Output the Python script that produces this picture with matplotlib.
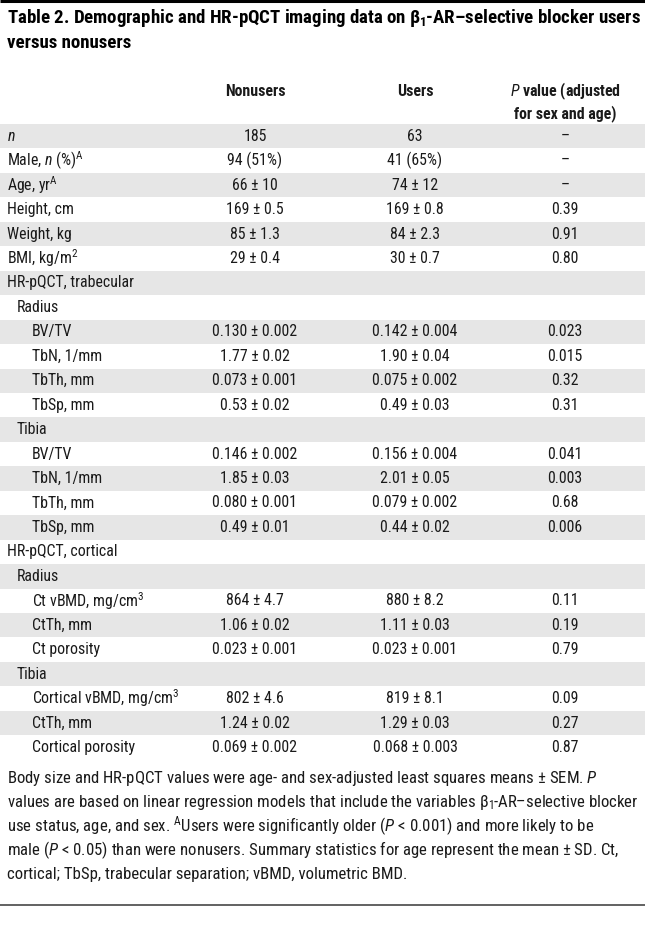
import matplotlib
matplotlib.use("Agg")
import matplotlib.pyplot as plt
from matplotlib import font_manager
from matplotlib.patches import Rectangle

names = {f.name for f in font_manager.fontManager.ttflist}
FONT = "Roboto"
for cand in ["Roboto Condensed", "Liberation Sans Narrow", "Roboto"]:
    if cand in names:
        FONT = cand
        break
plt.rcParams['font.family'] = [FONT, 'DejaVu Sans']
plt.rcParams['mathtext.fontset'] = 'custom'
plt.rcParams['mathtext.rm'] = FONT
plt.rcParams['mathtext.it'] = FONT + ':italic'
plt.rcParams['mathtext.bf'] = FONT + ':bold'

title_lines = [r"Table 2. Demographic and HR-pQCT imaging data on $\mathbf{\beta_1}\hspace{-0.08}$-AR–selective blocker users",
               "versus nonusers"]
col_headers = ["Nonusers", "Users", "$\\mathit{P}$ value (adjusted\nfor sex and age)"]

row_labels = [r"$\mathit{n}$", r"Male, $\mathit{n}$ (%)$^{\mathrm{A}}$", r"Age, yr$^{\mathrm{A}}$",
              "Height, cm", "Weight, kg", r"BMI, kg/m$^{\mathrm{2}}$",
              "HR-pQCT, trabecular", "Radius", "BV/TV", "TbN, 1/mm", "TbTh, mm", "TbSp, mm",
              "Tibia", "BV/TV", "TbN, 1/mm", "TbTh, mm", "TbSp, mm",
              "HR-pQCT, cortical", "Radius", r"Ct vBMD, mg/cm$^{\mathrm{3}}$", "CtTh, mm", "Ct porosity",
              "Tibia", r"Cortical vBMD, mg/cm$^{\mathrm{3}}$", "CtTh, mm", "Cortical porosity"]
row_levels = [0, 0, 0, 0, 0, 0,
              0, 1, 2, 2, 2, 2,
              1, 2, 2, 2, 2,
              0, 1, 2, 2, 2,
              1, 2, 2, 2]
nonusers = ["185", "94 (51%)", "66 ± 10", "169 ± 0.5", "85 ± 1.3", "29 ± 0.4",
            "", "", "0.130 ± 0.002", "1.77 ± 0.02", "0.073 ± 0.001", "0.53 ± 0.02",
            "", "0.146 ± 0.002", "1.85 ± 0.03", "0.080 ± 0.001", "0.49 ± 0.01",
            "", "", "864 ± 4.7", "1.06 ± 0.02", "0.023 ± 0.001",
            "", "802 ± 4.6", "1.24 ± 0.02", "0.069 ± 0.002"]
users = ["63", "41 (65%)", "74 ± 12", "169 ± 0.8", "84 ± 2.3", "30 ± 0.7",
         "", "", "0.142 ± 0.004", "1.90 ± 0.04", "0.075 ± 0.002", "0.49 ± 0.03",
         "", "0.156 ± 0.004", "2.01 ± 0.05", "0.079 ± 0.002", "0.44 ± 0.02",
         "", "", "880 ± 8.2", "1.11 ± 0.03", "0.023 ± 0.001",
         "", "819 ± 8.1", "1.29 ± 0.03", "0.068 ± 0.003"]
pvalues = ["–", "–", "–", "0.39", "0.91", "0.80",
           "", "", "0.023", "0.015", "0.32", "0.31",
           "", "0.041", "0.003", "0.68", "0.006",
           "", "", "0.11", "0.19", "0.79",
           "", "0.09", "0.27", "0.87"]
footnote_lines = [
    r"Body size and HR-pQCT values were age- and sex-adjusted least squares means ± SEM. $\mathit{P}$",
    r"values are based on linear regression models that include the variables $\mathrm{\beta_1}\hspace{-0.08}$-AR–selective blocker",
    r"use status, age, and sex. $^{\mathrm{A}}$Users were significantly older ($\mathit{P}$ < 0.001) and more likely to be",
    r"male ($\mathit{P}$ < 0.05) than were nonusers. Summary statistics for age represent the mean ± SD. Ct,",
    "cortical; TbSp, trabecular separation; vBMD, volumetric BMD.",
]

W, H = 645, 949
fig = plt.figure(figsize=(W / 100, H / 100), dpi=100)
ax = fig.add_axes([0, 0, 1, 1])
ax.set_xlim(0, W)
ax.set_ylim(H, 0)
ax.axis('off')
renderer = fig.canvas.get_renderer()


def fit_size(s, target_w, base, **kw):
    t = ax.text(0, 0, s, fontsize=base, **kw)
    w = t.get_window_extent(renderer).width
    t.remove()
    return base * target_w / w


TXT = "#1a1a1a"
# top rule
ax.plot([0, W], [1, 1], color="black", lw=2.2, solid_capstyle='butt')

# title
tsize = fit_size(title_lines[0], 633, 12.5, fontweight='bold')
for i, t in enumerate(title_lines):
    ax.text(7, 18 + i * 25, t, fontsize=tsize, fontweight='bold', va='center', ha='left', color="black")

FS = 11.4
HW = 'semibold'
col_x = [255, 415, 565]
ax.text(col_x[0], 91, col_headers[0], fontsize=FS, fontweight=HW, ha='center', va='center', color=TXT)
ax.text(col_x[1], 91, col_headers[1], fontsize=FS, fontweight=HW, ha='center', va='center', color=TXT)
ax.text(col_x[2], 101.5, col_headers[2], fontsize=FS, fontweight=HW, ha='center', va='center',
        color=TXT, linespacing=1.25)

top = 124
rh = 24.45
indent = {0: 7, 1: 17, 2: 32}
for i, lab in enumerate(row_labels):
    y0 = top + i * rh
    if i % 2 == 0:
        ax.add_patch(Rectangle((0, y0), W, rh, facecolor="#e6e6e6", edgecolor='none'))
    yc = y0 + rh / 2
    ax.text(indent[row_levels[i]], yc, lab, fontsize=FS, ha='left', va='center', color=TXT)
    ax.text(col_x[0], yc, nonusers[i], fontsize=FS, ha='center', va='center', color=TXT)
    ax.text(col_x[1], yc, users[i], fontsize=FS, ha='center', va='center', color=TXT)
    ax.text(col_x[2], yc, pvalues[i], fontsize=FS, ha='center', va='center', color=TXT)

fsize = fit_size(footnote_lines[1], 632, 10.5)
fy = 779
for i, t in enumerate(footnote_lines):
    ax.text(7, fy + i * 23.8, t, fontsize=fsize, ha='left', va='center', color=TXT)

ax.plot([0, W], [905, 905], color="#555555", lw=1.3)

fig.savefig("out.png", dpi=100)
